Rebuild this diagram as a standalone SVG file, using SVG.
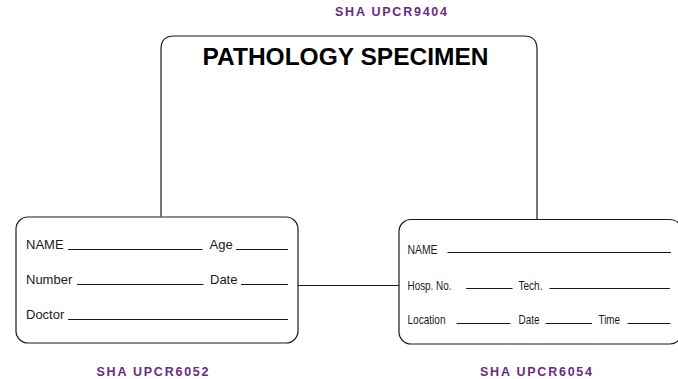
<svg xmlns="http://www.w3.org/2000/svg" width="678" height="379" viewBox="0 0 678 379">
<style>
.box{fill:#fff;stroke:#1a1a1a;stroke-width:1.2}
.edge{fill:none;stroke:#1a1a1a;stroke-width:1.2}
.rule{stroke:#1a1a1a;stroke-width:1.2}
.lbl{font-family:"Liberation Sans",Arial,sans-serif;font-size:13px;fill:#1a1a1a}
.cnd{font-family:"Liberation Sans Narrow","Liberation Sans",Arial,sans-serif;font-stretch:condensed;font-size:13.5px;fill:#1a1a1a}
.code{font-family:"Liberation Sans",Arial,sans-serif;font-weight:bold;font-size:12.5px;fill:#6a2a7f}
.title{font-family:"Liberation Sans",Arial,sans-serif;font-weight:bold;font-size:23.5px;fill:#000}
</style>
<rect width="678" height="379" fill="#fff"/>
<g id="connectors">
<line class="edge" x1="298" y1="285.5" x2="399" y2="285.5"/>
</g>
<g id="node-upcr9404">
<path class="edge" d="M161,216.5 V49 Q161,36 174,36 H524 Q537,36 537,49 V219.5"/>
<text class="title" x="345.5" y="65" text-anchor="middle" textLength="286" lengthAdjust="spacingAndGlyphs">PATHOLOGY SPECIMEN</text>
<text class="code" x="391" y="16" text-anchor="middle" textLength="112" lengthAdjust="spacing">SHA UPCR9404</text>
</g>
<g id="node-upcr6052">
<rect class="box" x="16" y="217" width="282" height="126" rx="12" ry="12"/>
<text class="lbl" x="26" y="249">NAME</text>
<line class="rule" x1="68" y1="249.5" x2="202.5" y2="249.5"/>
<text class="lbl" x="209.5" y="249">Age</text>
<line class="rule" x1="236" y1="249.5" x2="288" y2="249.5"/>
<text class="lbl" x="26" y="284">Number</text>
<line class="rule" x1="77" y1="284.5" x2="203.5" y2="284.5"/>
<text class="lbl" x="210" y="284">Date</text>
<line class="rule" x1="241" y1="284.5" x2="288" y2="284.5"/>
<text class="lbl" x="26" y="319">Doctor</text>
<line class="rule" x1="68" y1="319.5" x2="288" y2="319.5"/>
<text class="code" x="152.5" y="376" text-anchor="middle" textLength="112" lengthAdjust="spacing">SHA UPCR6052</text>
</g>
<g id="node-upcr6054">
<rect class="box" x="399" y="219.5" width="283" height="124.5" rx="12" ry="12"/>
<text class="cnd" x="407.5" y="253.5" textLength="30" lengthAdjust="spacingAndGlyphs">NAME</text>
<line class="rule" x1="447.5" y1="252.5" x2="671" y2="252.5"/>
<text class="cnd" x="407.5" y="290" textLength="44" lengthAdjust="spacingAndGlyphs">Hosp. No.</text>
<line class="rule" x1="466" y1="288.5" x2="512.5" y2="288.5"/>
<text class="cnd" x="518.5" y="290" textLength="24" lengthAdjust="spacingAndGlyphs">Tech.</text>
<line class="rule" x1="549.5" y1="288.5" x2="670" y2="288.5"/>
<text class="cnd" x="407.5" y="324" textLength="38" lengthAdjust="spacingAndGlyphs">Location</text>
<line class="rule" x1="456.5" y1="323.5" x2="510.5" y2="323.5"/>
<text class="cnd" x="518.5" y="324" textLength="21" lengthAdjust="spacingAndGlyphs">Date</text>
<line class="rule" x1="545.5" y1="323.5" x2="592" y2="323.5"/>
<text class="cnd" x="598.5" y="324" textLength="21.5" lengthAdjust="spacingAndGlyphs">Time</text>
<line class="rule" x1="627.5" y1="323.5" x2="670.5" y2="323.5"/>
<text class="code" x="536" y="376" text-anchor="middle" textLength="112" lengthAdjust="spacing">SHA UPCR6054</text>
</g>
</svg>
